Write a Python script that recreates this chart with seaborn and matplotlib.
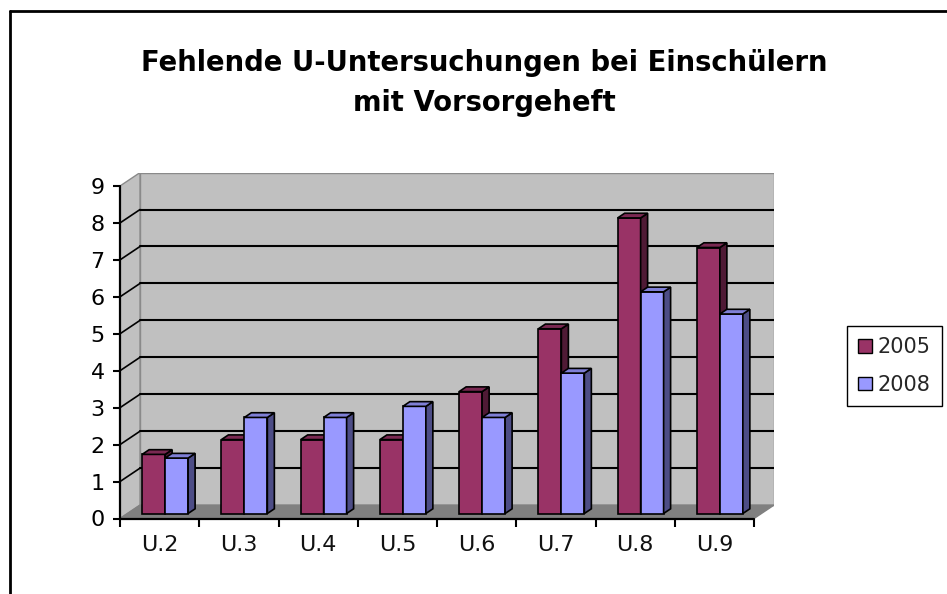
import matplotlib
matplotlib.use("Agg")
import matplotlib.pyplot as plt
import seaborn as sns
import pandas as pd
import numpy as np
from matplotlib.patches import Polygon, Rectangle, Patch
from matplotlib.lines import Line2D

# ---------------- data ----------------
categories = ["U.2", "U.3", "U.4", "U.5", "U.6", "U.7", "U.8", "U.9"]
years = ["2005", "2008"]
values_2005 = [1.6, 2.0, 2.0, 2.0, 3.3, 5.0, 8.0, 7.2]
values_2008 = [1.5, 2.6, 2.6, 2.9, 2.6, 3.8, 6.0, 5.4]
y_ticks = list(range(0, 10))
title_lines = ["Fehlende U-Untersuchungen bei Einschülern", "mit Vorsorgeheft"]

df = pd.DataFrame({
    "Untersuchung": categories * 2,
    "Jahr": [years[0]] * len(categories) + [years[1]] * len(categories),
    "Wert": values_2005 + values_2008,
})

front_colors = ["#993366", "#9999FF"]
side_colors = ["#4f1a35", "#4d4d86"]
top_colors = ["#7a2952", "#7f7fd6"]

sns.set_theme(style="white")
plt.rcParams["font.family"] = ["DejaVu Sans"]

W, H = 947, 594
fig = plt.figure(figsize=(W / 100, H / 100), dpi=100)
fig.patch.set_facecolor("white")

# geometry (pixels)
x0_px, x1_px = 120, 754
y0_px, y9_px = 518.5, 186
wall_dx_px, wall_dy_px = 20, 13.4
ux = (x1_px - x0_px) / 8
uy = (y0_px - y9_px) / 9
DX = wall_dx_px / ux
DY = wall_dy_px / uy

ax = fig.add_axes([x0_px / W, (H - y0_px) / H,
                   (x1_px - x0_px + wall_dx_px) / W,
                   (y0_px - y9_px + wall_dy_px) / H])
ax.set_facecolor("none")
for s in ax.spines.values():
    s.set_visible(False)

n = len(categories)
xl, xr = -0.5, n - 0.5
ymax = y_ticks[-1]

# back wall, side wall, floor
ax.add_patch(Rectangle((xl + DX, DY), n, ymax, facecolor="#c0c0c0",
                       edgecolor="#8a8a8a", lw=1, zorder=0))
ax.add_patch(Polygon([(xl, 0), (xl + DX, DY), (xl + DX, ymax + DY), (xl, ymax)],
                     closed=True, facecolor="#c0c0c0", edgecolor="#8a8a8a",
                     lw=1, zorder=0))
ax.add_patch(Polygon([(xl, 0), (xr, 0), (xr + DX, DY), (xl + DX, DY)],
                     closed=True, facecolor="#808080", edgecolor="#808080",
                     lw=1, zorder=0.5))
for v in y_ticks[1:-1]:
    ax.plot([xl + DX, xr + DX], [v + DY, v + DY], color="black", lw=1.5, zorder=1)
    ax.plot([xl, xl + DX], [v, v + DY], color="black", lw=1.2, zorder=1)

# bars
sns.barplot(data=df, x="Untersuchung", y="Wert", hue="Jahr",
            palette=front_colors, width=0.58, edgecolor="black",
            linewidth=1.2, ax=ax, legend=False, saturation=1)

fx, fy = 5.5 / ux, 5.0 / uy
bx, by = 7.0 / ux, 4.7 / uy
for i, cont in enumerate(ax.containers):
    z = 3 + i
    for rect in cont:
        x = rect.get_x() + fx
        w = rect.get_width()
        h = rect.get_height()
        rect.set_x(x)
        rect.set_y(fy)
        rect.set_zorder(z)
        side = Polygon([(x + w, fy), (x + w + bx, fy + by),
                        (x + w + bx, fy + h + by), (x + w, fy + h)],
                       closed=True, facecolor=side_colors[i],
                       edgecolor="black", lw=1.2, zorder=z)
        top = Polygon([(x, fy + h), (x + bx, fy + h + by),
                       (x + w + bx, fy + h + by), (x + w, fy + h)],
                      closed=True, facecolor=top_colors[i],
                      edgecolor="black", lw=1.2, zorder=z)
        ax.add_patch(side)
        ax.add_patch(top)

ax.set_xlim(xl, xr + DX)
ax.set_ylim(0, ymax + DY)

# front axes lines
ax.plot([xl, xl], [0, ymax], color="black", lw=1.6, zorder=6, clip_on=False)
ax.plot([xl, xr], [0, 0], color="black", lw=1.6, zorder=6, clip_on=False)

ax.set_yticks(y_ticks)
ax.set_yticklabels([str(t) for t in y_ticks])
ax.set_xticks(np.arange(xl, xr + 0.01, 1.0))
ax.set_xticklabels([])
ax.set_xticks(range(n), minor=True)
ax.set_xticklabels(categories, minor=True)
ax.tick_params(axis="y", left=True, length=5, width=1.5, direction="out",
               pad=6, labelsize=16, colors="black")
ax.tick_params(axis="x", which="major", bottom=True, length=6, width=1.5,
               direction="out", colors="black")
ax.tick_params(axis="x", which="minor", bottom=True, length=0, pad=12,
               labelsize=16, labelcolor="#111111")
ax.set_xlabel("")
ax.set_ylabel("")

# legend
handles = [Patch(facecolor=front_colors[i], edgecolor="black", lw=1.0, label=years[i])
           for i in range(len(years))]
leg = fig.legend(handles=handles, loc="center left",
                 bbox_to_anchor=(847 / W, 1 - 366 / H), fontsize=15,
                 frameon=True, fancybox=False, framealpha=1, edgecolor="black",
                 handlelength=0.65, handleheight=0.65, handletextpad=0.25,
                 labelspacing=0.85, borderpad=0.55, borderaxespad=0)
leg.get_frame().set_linewidth(1.0)

# title
fig.text(484 / W, 1 - 63 / H, title_lines[0], ha="center", va="center",
         fontsize=19.8, fontweight="bold", color="black")
fig.text(484 / W, 1 - 103 / H, title_lines[1], ha="center", va="center",
         fontsize=19.8, fontweight="bold", color="black")

# chart border (left and top visible)
fig.add_artist(Line2D([9.5 / W, 9.5 / W], [0, 1 - 11 / H], color="black", lw=2,
                      transform=fig.transFigure))
fig.add_artist(Line2D([9.5 / W, 1], [1 - 11 / H, 1 - 11 / H], color="black", lw=2,
                      transform=fig.transFigure))

fig.savefig("out.png", dpi=100)
